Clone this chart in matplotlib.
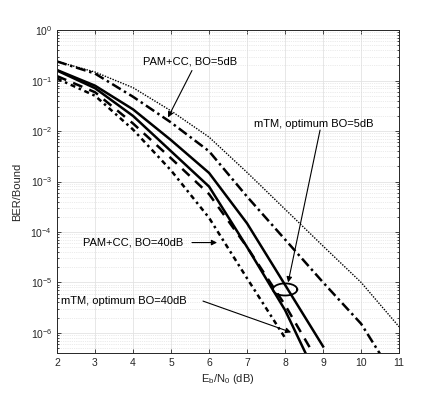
import numpy as np
import matplotlib
matplotlib.use("Agg")
import matplotlib.pyplot as plt

plt.rcParams['font.family'] = ['Liberation Sans', 'DejaVu Sans']
plt.rcParams['mathtext.default'] = 'regular'

# Eb/N0 (dB) and log10 of BER for each curve
x_dotted = [2, 3, 4, 5, 6, 7, 8, 9, 10, 11]
ber_dotted = [-0.62, -0.83, -1.14, -1.60, -2.12, -2.82, -3.55, -4.28, -5.00, -5.88]

x_pam5 = [2, 3, 4, 5, 6, 7, 8, 9, 10, 10.5]
ber_pam5 = [-0.62, -0.86, -1.32, -1.83, -2.40, -3.30, -4.15, -5.00, -5.82, -6.42]

x_mtm5 = [2, 3, 4, 5, 6, 7, 8, 9]
ber_mtm5 = [-0.79, -1.10, -1.57, -2.18, -2.83, -3.83, -5.05, -6.27]

x_mtm40 = [2, 3, 4, 5, 6, 7, 8, 8.55]
ber_mtm40 = [-0.80, -1.15, -1.70, -2.40, -3.10, -4.30, -5.55, -6.42]

x_dashed = [2, 3, 4, 5, 6, 7, 8, 8.75]
ber_dashed = [-0.91, -1.23, -1.85, -2.54, -3.25, -4.30, -5.45, -6.42]

x_pam40 = [2, 3, 4, 5, 6, 7, 8]
ber_pam40 = [-0.96, -1.30, -1.97, -2.78, -3.72, -4.92, -6.10]

ink = '#262626'

fig = plt.figure(figsize=(4.42, 3.97), dpi=100)
ax = fig.add_axes([0.129, 0.111, 0.774, 0.813])

ax.semilogy(x_dotted, 10 ** np.array(ber_dotted), color='k', lw=1.0, ls=(0, (1, 1)))
ax.semilogy(x_pam5, 10 ** np.array(ber_pam5), color='k', lw=1.8, ls=(0, (4, 1.5, 1, 1.5)))
ax.semilogy(x_mtm5, 10 ** np.array(ber_mtm5), color='k', lw=1.8, ls='-')
ax.semilogy(x_mtm40, 10 ** np.array(ber_mtm40), color='k', lw=1.8, ls='-')
ax.semilogy(x_dashed, 10 ** np.array(ber_dashed), color='k', lw=1.8, ls=(0, (4, 3)))
ax.semilogy(x_pam40, 10 ** np.array(ber_pam40), color='k', lw=1.8, ls=(0, (2, 1.5, 1, 1.5)))

# ellipse around the mTM BO=5dB curve at 8 dB
t = np.linspace(0, 2 * np.pi, 200)
ax.plot(8.0 + 0.32 * np.cos(t), 10 ** (-5.14 + 0.12 * np.sin(t)), color='k', lw=1.3)

ax.set_xlim(2, 11)
ax.set_ylim(4e-7, 1)
ax.set_xticks(range(2, 12))
ax.set_yticks([10.0 ** k for k in range(-6, 1)])

ax.grid(True, which='major', color='#e3e3e3', lw=0.6)
ax.grid(True, which='minor', axis='y', color='#d8d8d8', lw=0.5, ls=':')
ax.set_axisbelow(True)
ax.tick_params(which='both', direction='in', top=True, right=True, colors=ink,
               labelsize=7.5, length=3, width=0.6)
ax.tick_params(which='minor', length=1.6)
for s in ax.spines.values():
    s.set_color(ink)
    s.set_linewidth(0.7)

ax.set_xlabel('E$_b$/N$_0$ (dB)', fontsize=8, color=ink, labelpad=3)
ax.set_ylabel('BER/Bound', fontsize=8, color=ink, labelpad=6)

arrow = dict(arrowstyle='-|>', color='k', lw=0.8, mutation_scale=8, shrinkA=0, shrinkB=0)
txt = dict(fontsize=8, ha='center', va='center')

ax.text(5.49, 10 ** -0.63, 'PAM+CC, BO=5dB', **txt)
ax.annotate('', xy=(4.92, 10 ** -1.73), xytext=(5.55, 10 ** -0.80), arrowprops=arrow)

ax.text(8.75, 10 ** -1.85, 'mTM, optimum BO=5dB', **txt)
ax.annotate('', xy=(8.08, 10 ** -5.0), xytext=(8.92, 10 ** -1.98), arrowprops=arrow)

ax.text(3.99, 10 ** -4.21, 'PAM+CC, BO=40dB', **txt)
ax.annotate('', xy=(6.21, 10 ** -4.21), xytext=(5.55, 10 ** -4.21), arrowprops=arrow)

ax.text(3.76, 10 ** -5.36, 'mTM, optimum BO=40dB', **txt)
ax.annotate('', xy=(8.16, 10 ** -5.99), xytext=(5.84, 10 ** -5.37), arrowprops=arrow)

fig.savefig('out.png', dpi=100)
